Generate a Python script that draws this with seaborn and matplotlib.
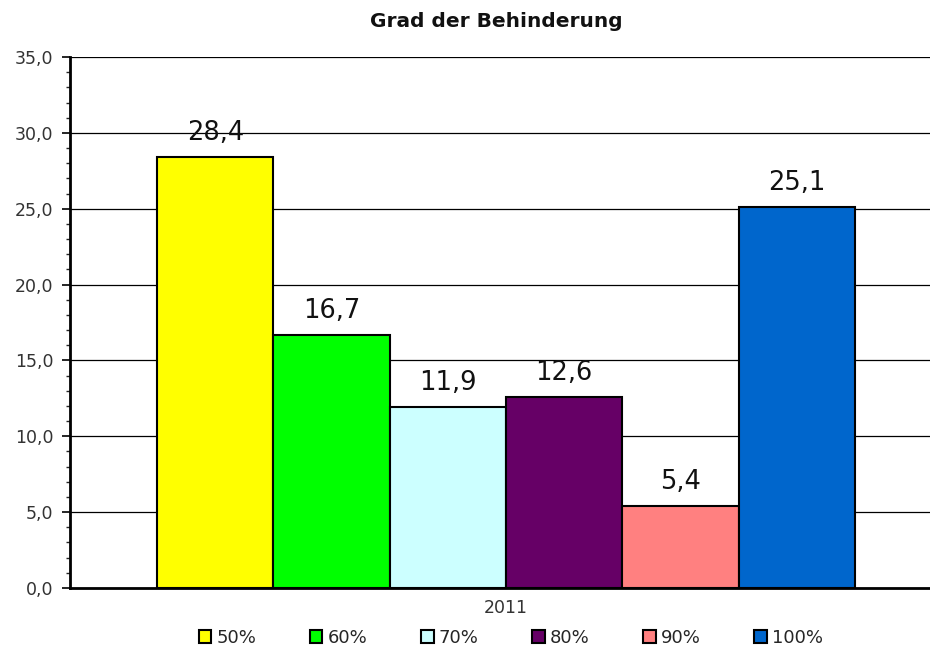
import matplotlib
matplotlib.use("Agg")
import matplotlib.pyplot as plt
import matplotlib.ticker as mticker
import seaborn as sns
import pandas as pd

years = ["2011"] * 6
grades = ["50%", "60%", "70%", "80%", "90%", "100%"]
shares = [28.4, 16.7, 11.9, 12.6, 5.4, 25.1]
colors = ["#FFFF00", "#00FF00", "#CCFFFF", "#660066", "#FF8080", "#0066CC"]

df = pd.DataFrame({"Jahr": years, "Grad": grades, "Anteil": shares})

sns.set_style("white")
plt.rcParams["font.family"] = ["DejaVu Sans"]

fig = plt.figure(figsize=(9.3, 6.51), dpi=100)
ax = fig.add_axes([0.0753, 0.0968, 0.9376, 0.8156])

sns.barplot(data=df, x="Jahr", y="Anteil", hue="Grad", hue_order=grades,
            palette=colors, edgecolor="black", linewidth=1.5, width=0.8,
            saturation=1, ax=ax, legend=True)

for cont, v in zip(ax.containers, shares):
    ax.bar_label(cont, labels=[f"{v:.1f}".replace(".", ",")], padding=8,
                 fontsize=18.5, color="#111111")

ax.set_ylim(0, 35)
ax.set_xlim(-0.5, 0.5)
ax.yaxis.set_major_locator(mticker.MultipleLocator(5))
ax.yaxis.set_minor_locator(mticker.MultipleLocator(1))
ax.yaxis.set_major_formatter(mticker.FuncFormatter(lambda v, p: f"{v:.1f}".replace(".", ",")))
ax.tick_params(axis="y", which="major", direction="out", length=6, width=1.2,
               labelsize=12.5, colors="black", left=True, pad=6)
ax.tick_params(axis="y", which="minor", direction="out", length=3, width=1, left=True)
ax.tick_params(axis="x", length=0, labelsize=12.5, pad=8)
for t in ax.get_yticklabels() + ax.get_xticklabels():
    t.set_color("#333333")
ax.grid(axis="y", which="major", color="black", linewidth=0.9)
ax.set_axisbelow(True)

for s in ["top", "right"]:
    ax.spines[s].set_visible(False)
for s in ["left", "bottom"]:
    ax.spines[s].set_linewidth(2)
    ax.spines[s].set_color("black")

ax.set_xlabel("")
ax.set_ylabel("")
fig.suptitle("Grad der Behinderung", x=0.534, y=0.982, fontsize=14.5,
             fontweight="bold", color="#111111")

handles, labels = ax.get_legend_handles_labels()
ax.legend(handles, labels, loc="center", bbox_to_anchor=(0.5495, 0.0205),
          bbox_transform=fig.transFigure, ncol=6, frameon=False, fontsize=13,
          handlelength=0.7, handleheight=0.7, handletextpad=0.3, columnspacing=2.95)

fig.savefig("out.png", dpi=100)
